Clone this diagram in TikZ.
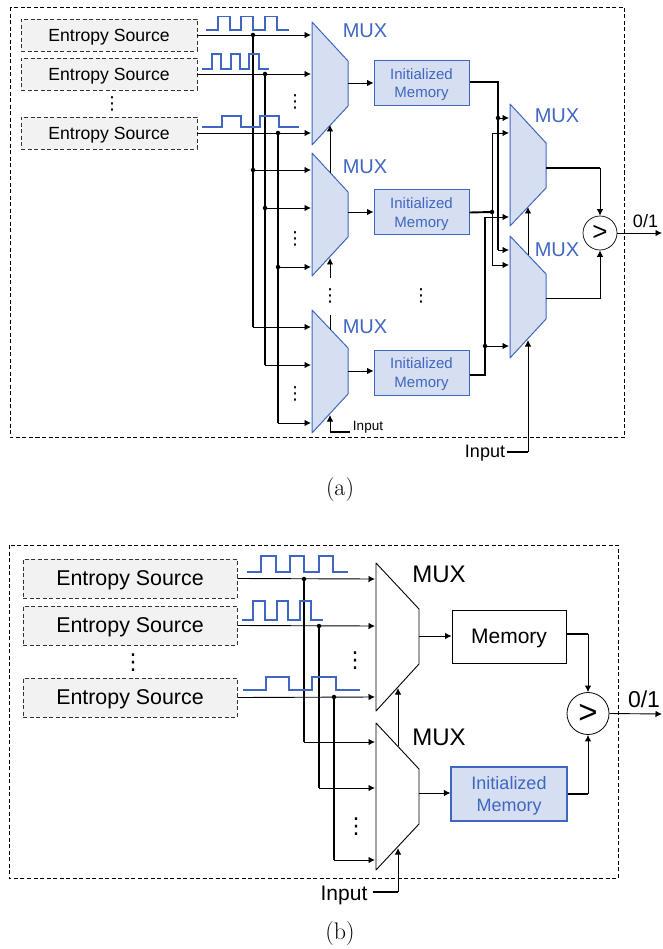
\documentclass[tikz,border=0pt]{standalone}
\usepackage{fontspec}
\usetikzlibrary{arrows.meta}
\newfontfamily\arialfont{Liberation Sans}
\newfontfamily\dotsfont{DejaVu Sans}
\newcommand{\fsz}[2]{\arialfont\fontsize{#1}{#2}\selectfont}
\definecolor{muxblue}{HTML}{3F66C0}
\definecolor{muxfill}{HTML}{D6DFF1}
\definecolor{srcfill}{HTML}{F2F2F2}
\tikzset{
  >={Latex[length=6.5pt,width=6.5pt]},
  frame/.style={draw=black,dash pattern=on 4pt off 2.5pt,line width=0.8pt},
  srca/.style={draw=black!80,dash pattern=on 4pt off 2.5pt,fill=srcfill,line width=0.8pt,minimum width=176pt,minimum height=32pt,inner sep=0pt,text depth=0pt,font=\fsz{17.6}{20}},
  srcb/.style={draw=black!80,dash pattern=on 4pt off 2.5pt,fill=srcfill,line width=0.8pt,minimum width=214pt,minimum height=39pt,inner sep=0pt,text depth=0pt,font=\fsz{21.4}{24}},
  mema/.style={draw=muxblue,fill=muxfill,line width=1pt,minimum width=95pt,minimum height=45pt,inner sep=0pt,align=center,text=muxblue,text depth=-2pt,font=\fsz{15}{18.5}},
  memb/.style={draw=muxblue,fill=muxfill,line width=1.2pt,minimum width=116pt,minimum height=54pt,inner sep=0pt,align=center,text=muxblue,text depth=0pt,font=\fsz{18}{22.7}},
  memk/.style={draw=black,line width=0.9pt,minimum width=114pt,minimum height=53pt,inner sep=0pt,text depth=0pt,font=\fsz{21}{24}},
  muxa/.style={draw=muxblue,fill=muxfill,line width=1pt,line join=round},
  muxb/.style={draw=black,line width=0.9pt,line join=round},
  labela/.style={inner sep=0pt,text=muxblue,font=\fsz{20}{22}},
  labelb/.style={inner sep=0pt,font=\fsz{24}{26}},
  wave/.style={draw=muxblue,line width=1.3pt},
  sig/.style={draw=black,line width=0.9pt},
  bus/.style={draw=black,line width=1.9pt},
  junction/.style={circle,fill=black,inner sep=0pt,minimum size=4.5pt},
  dotsa/.style={inner sep=0pt,font=\dotsfont\fontsize{18}{18}\selectfont},
  dotsb/.style={inner sep=0pt,font=\dotsfont\fontsize{22}{22}\selectfont},
  cmpa/.style={draw=black,circle,line width=0.7pt,inner sep=0pt,minimum size=34pt,font=\fsz{26}{26}},
  cmpb/.style={draw=black,circle,line width=0.8pt,inner sep=0pt,minimum size=42pt,font=\fsz{33}{33}},
  caption/.style={inner sep=0pt,font=\fontsize{24}{26}\selectfont}
}
\begin{document}
\begin{tikzpicture}[x=1pt,y=-1pt]
        \useasboundingbox (0,0) rectangle (662,949);

        \draw[frame] (10,7.5) rectangle (624.5,437);
        \foreach \nm/\yy in {esa1/35, esa2/74, esa3/133} {
          \node[srca] (\nm) at (109,\yy) {Entropy Source};
        }
        \foreach \nm/\xx/\yy in {vsrca/112/104, dma1/295/102, dma2/295/239, dma3/295/394, dma4/330/296, dma5/421/296} {
          \node[dotsa] (\nm) at (\xx,\yy) {⋮};
        }

        \foreach \nm/\xa/\xb/\ya/\yb/\yc/\yd in {ma1/312/348/22/61/106/145, ma2/312/348/153/192/237/276, ma3/312/348/310/348/394/433, mr1/510/546/104/143/188/226, mr2/510/546/236/274/319/358} {
          \draw[muxa] (\xa,\ya) -- (\xb,\yb) -- (\xb,\yc) -- (\xa,\yd) -- cycle;
        }
        \foreach \nm/\xx/\yy in {lma1/365/31, lma2/365/167, lma3/365/327, lmr1/557/116, lmr2/557/250} {
          \node[labela] (\nm) at (\xx,\yy) {MUX};
        }
        \node[mema] (mema1) at (421.5,83) {Initialized\\Memory};
        \node[mema] (mema2) at (421.5,212.5) {Initialized\\Memory};
        \node[mema] (mema3) at (421.5,372.5) {Initialized\\Memory};
        \node[cmpa] (cmpr) at (600,233) {>};

        \foreach \nm/\xx/\yy in {ma1i1/311/35, ma1i2/311/74, ma1i3/311/133, ma2i1/311/170, ma2i2/311/208, ma2i3/311/267, ma3i1/311/327, ma3i2/311/365, ma3i3/311/423, ma1o/348/83, ma2o/348/212, ma3o/348/371, mr1i1/509/118, mr1i2/509/133, mr1i3/509/217, mr2i1/509/250, mr2i2/509/265, mr2i3/509/346, mr1o/546/168, mr2o/546/298.5, cta/498/82, ctb/485/375, cka/600/168, ckb/600/298.5, outa/662/233, sa1/330/173, ta1/330/125, sa2/330/278, ta2/330/258, sa3/330/315, ea3/330/330, cna/350/432, cnb/330/432, ta3/330/415, sr1/528/255, tr1/528/207, cnc/528/452, tr2/528/340} {
          \coordinate (\nm) at (\xx,\yy);
        }
        \foreach \nm/\xx/\yy in {ja1/253/35, ja2/265/74, ja3/278/133, jb1/253/170, jb2/265/208, jb3/278/267, jc1/498/118, jc2/492/212, jc3/485/346} {
          \node[junction] (\nm) at (\xx,\yy) {};
        }

        \foreach \nm/\dst in {esa1/ma1i1, esa2/ma1i2, esa3/ma1i3} {
          \draw[sig,->] (\nm.east) -- (\dst);
        }
        \foreach \nm/\dst in {ja1/ma3i1, ja2/ma3i2, ja3/ma3i3} {
          \draw[bus] (\nm.center) -- (\nm |- \dst);
          \draw[sig,->] (\nm |- \dst) -- (\dst);
        }
        \foreach \nm/\dst in {jb1/ma2i1, jb2/ma2i2, jb3/ma2i3, jc1/mr1i1, jc3/mr2i3} {
          \draw[sig,->] (\nm.center) -- (\dst);
        }
        \foreach \nm/\dst in {ma1o/mema1, ma2o/mema2, ma3o/mema3} {
          \draw[sig,->] (\nm) -- (\nm -| \dst.west);
        }
        \draw[bus] (mema1.east |- cta) -- (cta) -- (cta |- mr2i1);
        \draw[sig,->] (cta |- mr2i1) -- (mr2i1);
        \draw[bus] (mema2.east) -- (jc2.center);
        \draw[sig,->] (jc2.center) |- (mr1i2);
        \draw[sig,->] (jc2.center) |- (mr2i2);
        \draw[bus] (mema3.east |- ctb) -- (ctb) -- (ctb |- mr1i3);
        \draw[sig,->] (ctb |- mr1i3) -- (mr1i3);
        \draw[bus] (mr1o) -- (cka);
        \draw[sig,->] (cka) -- (cmpr.north);
        \draw[bus] (mr2o) -- (ckb);
        \draw[sig,->] (ckb) -- (cmpr.south);
        \draw[sig,->] (cmpr.east) -- (outa);
        \node[inner sep=0pt,font=\fsz{18}{20}] (vala) at (645.5,221) {0/1};

        \draw[sig,->] (sa1) -- (ta1);
        \draw[sig,->] (sa2) -- (ta2);
        \draw[sig] (sa3) -- (ea3);
        \draw[bus] (cna) -- (cnb);
        \draw[sig,->] (cnb) -- (ta3);
        \node[inner sep=0pt,text depth=0pt,font=\fsz{13.5}{15}] (inpa) at (368,426) {Input};
        \draw[sig,->] (sr1) -- (tr1);
        \node[inner sep=0pt,text depth=0pt,font=\fsz{18}{20}] (inpb) at (485,451) {Input};
        \draw[bus] (inpb.east) ++(2,1) -- (cnc);
        \draw[sig,->] (cnc) -- (tr2);

        \draw[wave] (206,30) -| (218,16.5) -| (230,30) -| (241,16.5) -| (253,30) -| (265,16.5) -| (277,30) -- (289,30);
        \draw[wave] (202,69) -| (212,54) -| (221,69) -| (231,54) -| (240,69) -| (249,54) -| (259,69) -- (269,69);
        \draw[wave] (202,127) -| (222,116) -| (241,127) -| (260,116) -| (279,127) -- (299,127);

        \node[caption] (capa) at (340,490) {(a)};

        \draw[frame] (9,545) rectangle (618,878);
        \foreach \nm/\yy in {esb1/578.5, esb2/625.5, esb3/697.5} {
          \node[srcb] (\nm) at (130,\yy) {Entropy Source};
        }
        \foreach \nm/\xx/\yy in {vsrcb/133/663, dmb1/355/661, dmb2/356/827} {
          \node[dotsb] (\nm) at (\xx,\yy) {⋮};
        }

        \foreach \nm/\ya/\yb/\yc/\yd in {mb1/563/609/664/711, mb2/723/769/824/870} {
          \draw[muxb] (376,\ya) -- (419,\yb) -- (419,\yc) -- (376,\yd) -- cycle;
        }
        \node[labelb] (lmb1) at (439,574) {MUX};
        \node[labelb] (lmb2) at (439,737) {MUX};
        \node[memk] (memb1) at (509,636.5) {Memory};
        \node[memb] (memb2) at (509,794) {Initialized\\Memory};
        \node[cmpb] (cmps) at (588,713.5) {>};

        \foreach \nm/\xx/\yy in {mb1i1/375/579, mb1i2/375/626, mb1i3/375/697, mb2i1/375/742, mb2i2/375/788, mb2i3/375/860, mb1o/419/636, mb2o/419/793, ckc/588/634, ckd/588/794, outb/662/714, sb1/398/746, tb1/398/688, cnd/398/892, tb2/398/848} {
          \coordinate (\nm) at (\xx,\yy);
        }
        \foreach \nm/\xx/\yy in {jd1/304/579, jd2/319/626, jd3/334/697} {
          \node[junction] (\nm) at (\xx,\yy) {};
        }

        \foreach \nm/\dst in {esb1/mb1i1, esb2/mb1i2, esb3/mb1i3} {
          \draw[sig,->] (\nm.east) -- (\dst);
        }
        \foreach \nm/\dst in {jd1/mb2i1, jd2/mb2i2, jd3/mb2i3} {
          \draw[bus] (\nm.center) -- (\nm |- \dst);
          \draw[sig,->] (\nm |- \dst) -- (\dst);
        }
        \foreach \nm/\dst in {mb1o/memb1, mb2o/memb2} {
          \draw[sig,->] (\nm) -- (\nm -| \dst.west);
        }
        \draw[bus] (memb1.east |- ckc) -- (ckc);
        \draw[sig,->] (ckc) -- (cmps.north);
        \draw[bus] (memb2.east |- ckd) -- (ckd);
        \draw[sig,->] (ckd) -- (cmps.south);
        \draw[sig,->] (cmps.east) -- (outb);
        \node[inner sep=0pt,font=\fsz{23}{25}] (valb) at (644,699) {0/1};

        \draw[sig,->] (sb1) -- (tb1);
        \node[inner sep=0pt,text depth=0pt,font=\fsz{21}{24}] (inpc) at (344,893) {Input};
        \draw[bus] (inpc.east) ++(5,-1) -- (cnd);
        \draw[sig,->] (cnd) -- (tb2);

        \draw[wave] (247,572) -| (261,556) -| (276,572) -| (290,556) -| (304,572) -| (319,556) -| (333,572) -- (348,572);
        \draw[wave] (242,620) -| (253,601) -| (265,620) -| (277,601) -| (288,620) -| (300,601) -| (311,620) -- (323,620);
        \draw[wave] (243,690) -| (266,677) -| (289,690) -| (312,677) -| (336,690) -- (360,690);

        \node[caption] (capb) at (340,934) {(b)};
      \end{tikzpicture}
\end{document}
